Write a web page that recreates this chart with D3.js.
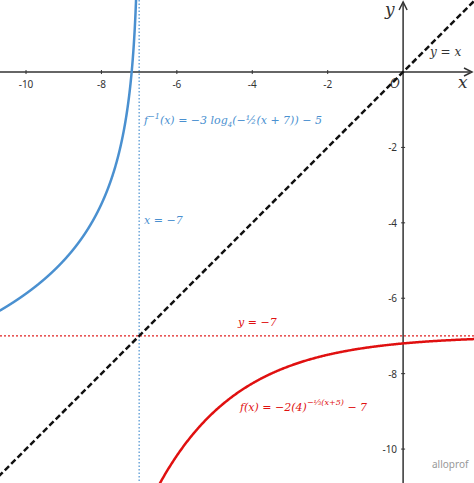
<!DOCTYPE html>
<html><head><meta charset="utf-8">
<script src="https://cdn.jsdelivr.net/npm/d3@7"></script>
<style>body{margin:0;background:#fff}svg{display:block}
.tk{font-family:"Noto Sans",sans-serif;font-size:10px;fill:#333}
.m{font-family:"DejaVu Serif",serif;font-style:italic}</style>
</head><body><div id="c"></div>
<script>
// chart data
const xTicks = [-10, -8, -6, -4, -2];
const yTicks = [-2, -4, -6, -8, -10];
const asymX = -7, asymY = -7;

const W = 474, H = 483;
const x = d3.scaleLinear().domain([-10.69, 1.88]).range([0, W]);
const y = d3.scaleLinear().domain([1.91, -10.9]).range([0, H]);

const f = t => -2 * Math.pow(4, -(t + 5) / 3) - 7;
const finv = t => -3 * Math.log(-(t + 7) / 2) / Math.log(4) - 5;

const svg = d3.select("#c").append("svg").attr("width", W).attr("height", H);
const line = d3.line().x(d => x(d[0])).y(d => y(d[1]));

// asymptotes
svg.append("line").attr("x1", x(asymX)).attr("x2", x(asymX)).attr("y1", 0).attr("y2", H)
  .attr("stroke", "#4a90d0").attr("stroke-width", 1.2).attr("stroke-dasharray", "1.5,2");
svg.append("line").attr("x1", 0).attr("x2", W).attr("y1", y(asymY)).attr("y2", y(asymY))
  .attr("stroke", "#e02020").attr("stroke-width", 1.2).attr("stroke-dasharray", "2,2");

// axes
svg.append("line").attr("x1", 0).attr("x2", W - 4).attr("y1", y(0)).attr("y2", y(0)).attr("stroke", "#333").attr("stroke-width", 1.5);
svg.append("line").attr("x1", x(0)).attr("x2", x(0)).attr("y1", 4).attr("y2", H).attr("stroke", "#333").attr("stroke-width", 1.5);
svg.append("path").attr("d", `M${W-10},${y(0)-4}L${W-2},${y(0)}L${W-10},${y(0)+4}`).attr("fill", "none").attr("stroke", "#333").attr("stroke-width", 1.5);
svg.append("path").attr("d", `M${x(0)-4},10L${x(0)},2L${x(0)+4},10`).attr("fill", "none").attr("stroke", "#333").attr("stroke-width", 1.5);

xTicks.forEach(t => {
  svg.append("line").attr("x1", x(t)).attr("x2", x(t)).attr("y1", y(0) - 2).attr("y2", y(0) + 2).attr("stroke", "#333");
  svg.append("text").attr("class", "tk").attr("x", x(t)).attr("y", y(0) + 16).attr("text-anchor", "middle").text(t);
});
yTicks.forEach(t => {
  svg.append("line").attr("x1", x(0) - 2).attr("x2", x(0) + 2).attr("y1", y(t)).attr("y2", y(t)).attr("stroke", "#333");
  svg.append("text").attr("class", "tk").attr("x", x(0) - 6).attr("y", y(t) + 4).attr("text-anchor", "end").text(t);
});
svg.append("text").attr("class", "m").attr("x", x(0) - 13).attr("y", y(0) + 16).attr("font-size", 12).attr("fill", "#333").text("O");
svg.append("text").attr("class", "m").attr("x", W - 16).attr("y", y(0) + 16).attr("font-size", 17).attr("fill", "#333").text("x");
svg.append("text").attr("class", "m").attr("x", x(0) - 18).attr("y", 15).attr("font-size", 17).attr("fill", "#333").text("y");

// y = x
svg.append("path").attr("d", line([[-10.9, -10.9], [1.9, 1.9]]))
  .attr("stroke", "#111").attr("stroke-width", 2.5).attr("stroke-dasharray", "6,3").attr("fill", "none");

// f
const fx = d3.range(-10.7, 1.9, 0.02).map(t => [t, f(t)]).filter(d => d[1] > -11.5);
svg.append("path").attr("d", line(fx)).attr("stroke", "#e01010").attr("stroke-width", 2.5).attr("fill", "none");
// f inverse
const gx = d3.range(-10.7, -7.0005, 0.002).map(t => [t, finv(t)]).filter(d => d[1] < 2.2);
svg.append("path").attr("d", line(gx)).attr("stroke", "#4a90d0").attr("stroke-width", 2.5).attr("fill", "none");

// labels
const blue = "#4a90d0", red = "#e01010";
svg.append("text").attr("class", "m").attr("x", 144).attr("y", 124).attr("font-size", 11).attr("fill", blue)
  .html('f<tspan dy="-5" font-size="8">−1</tspan><tspan dy="5">(x) = −3 log</tspan><tspan dy="3" font-size="7">4</tspan><tspan dy="-3">(−½(x + 7)) − 5</tspan>');
svg.append("text").attr("class", "m").attr("x", 144).attr("y", 224).attr("font-size", 11).attr("fill", blue).text("x = −7");
svg.append("text").attr("class", "m").attr("x", 238).attr("y", 326).attr("font-size", 11).attr("fill", red).text("y = −7");
svg.append("text").attr("class", "m").attr("x", 240).attr("y", 411).attr("font-size", 11).attr("fill", red)
  .html('f(x) = −2(4)<tspan dy="-6" font-size="8">−⅓(x+5)</tspan><tspan dy="6"> − 7</tspan>');
svg.append("text").attr("class", "m").attr("x", 430).attr("y", 56).attr("font-size", 12).attr("fill", "#333").text("y = x");
svg.append("text").attr("x", 432).attr("y", 468).attr("font-family", "Noto Sans").attr("font-size", 10).attr("fill", "#999").text("alloprof");
</script></body></html>
